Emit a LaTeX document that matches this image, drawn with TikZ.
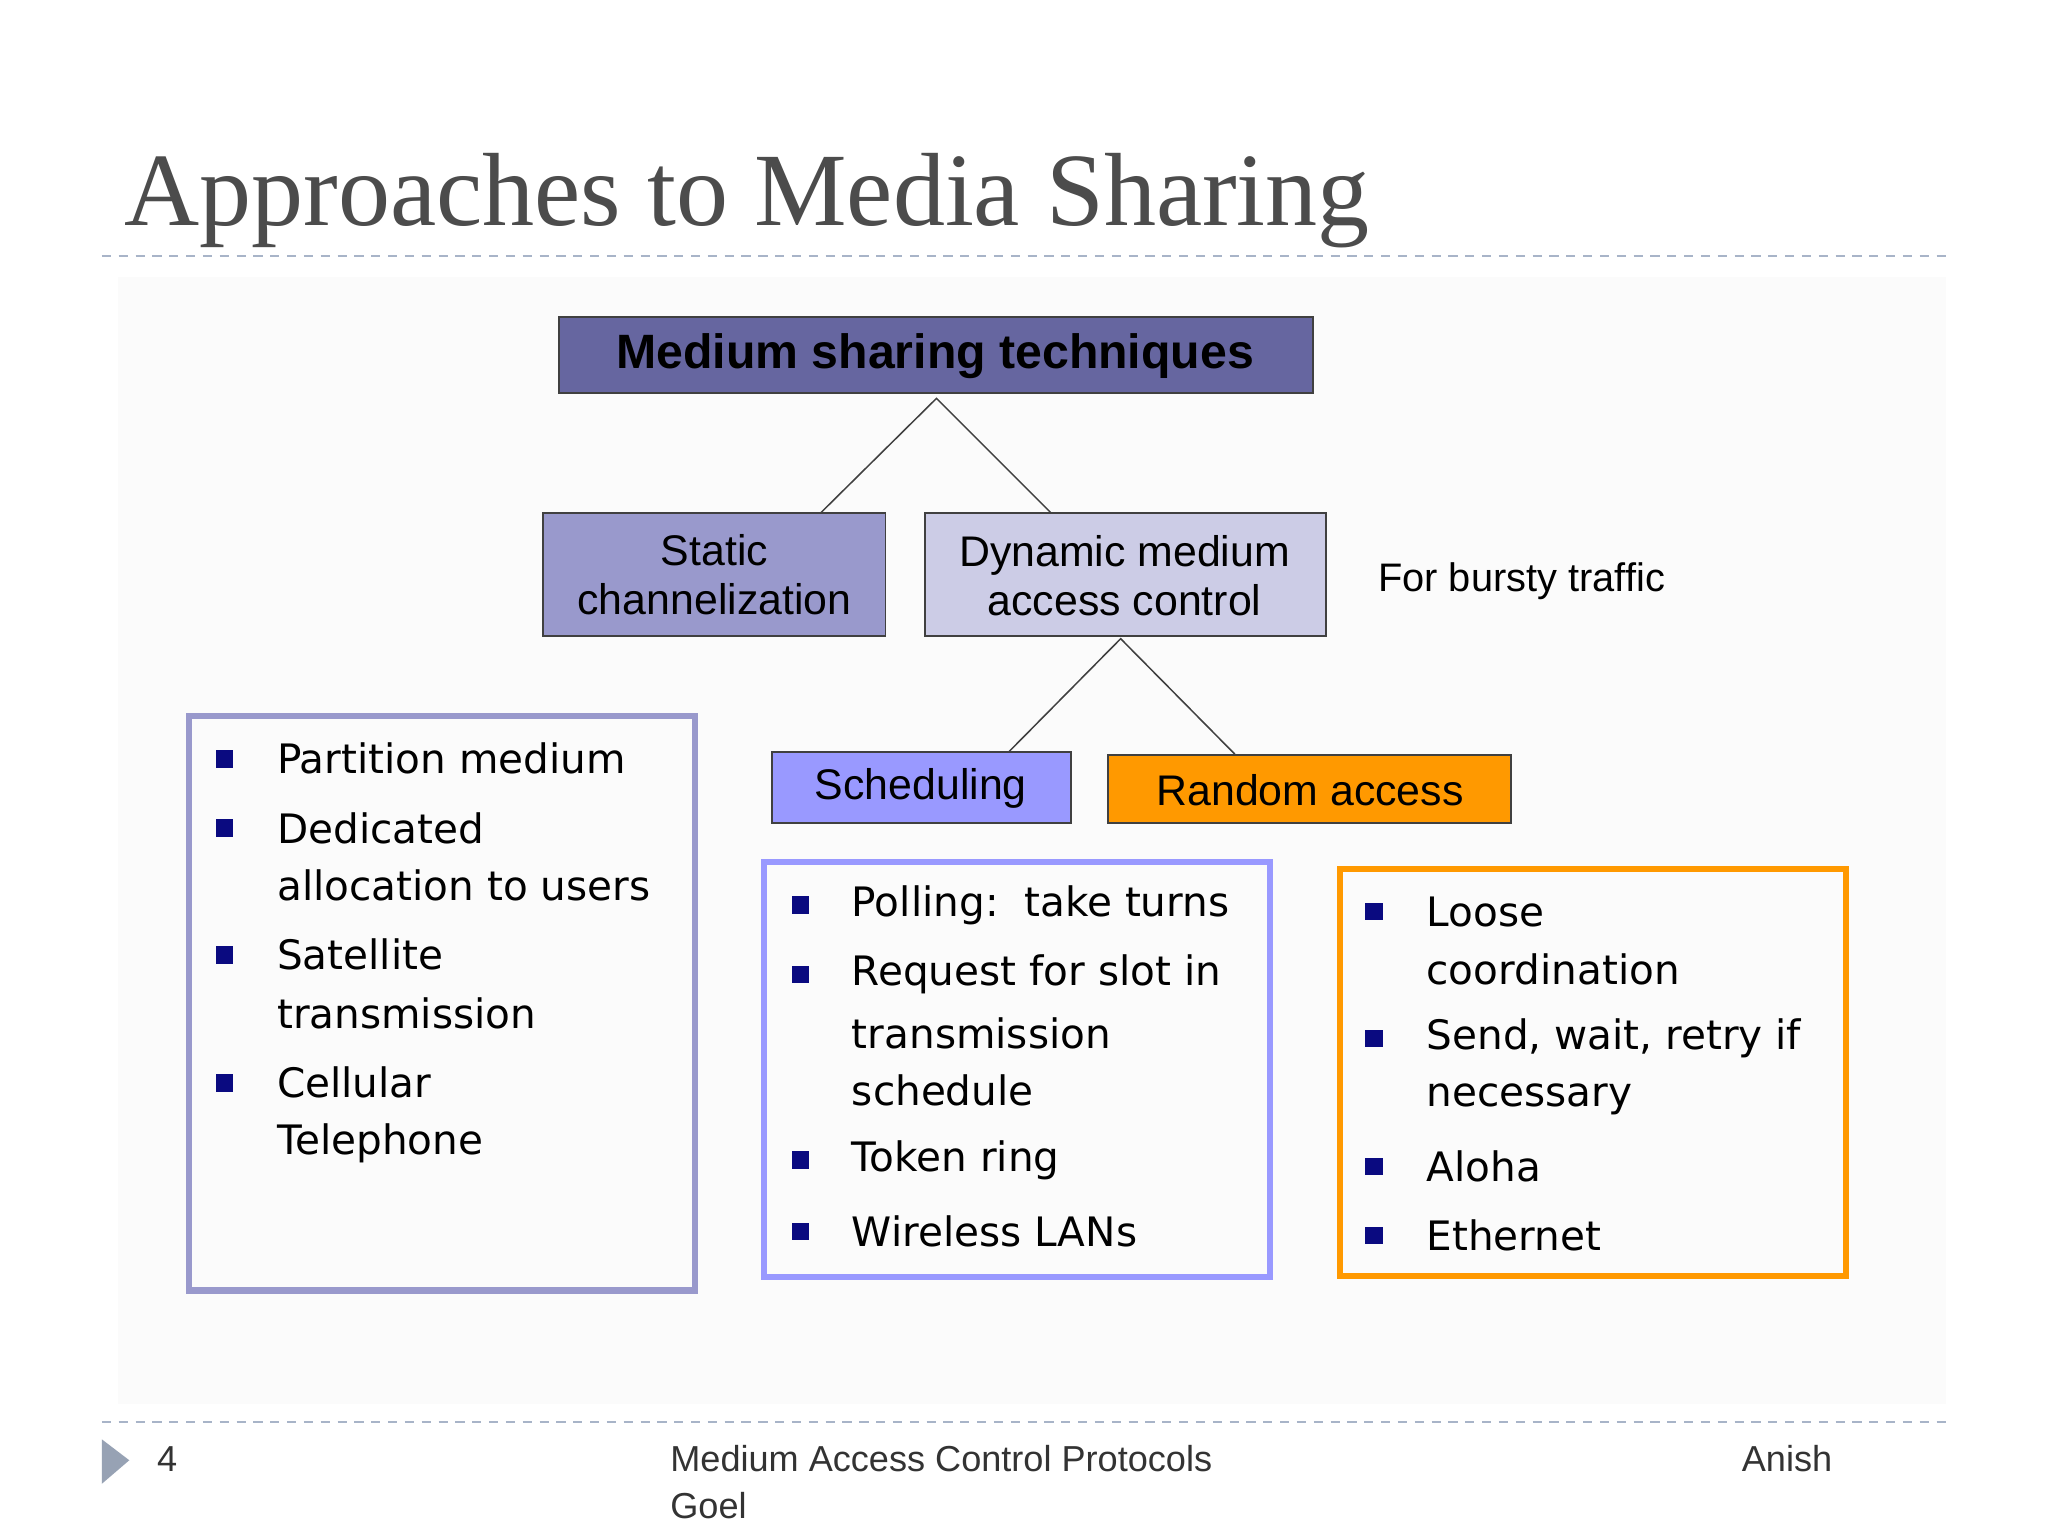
\documentclass[tikz,border=0pt]{standalone}
\usepackage{fontspec}
\setmainfont{Liberation Sans}
\newfontfamily\ttl{Liberation Serif}
\newfontfamily\lst{DejaVu Sans}
\definecolor{bul}{HTML}{0A0A80}
\definecolor{dashc}{HTML}{A8B4C8}
\definecolor{topc}{HTML}{6666A0}
\definecolor{statc}{HTML}{9999CC}
\definecolor{dync}{HTML}{CCCCE6}
\definecolor{schc}{HTML}{9999FF}
\definecolor{rndc}{HTML}{FF9900}
\begin{document}
\begin{tikzpicture}[x=0.3mm,y=-0.3mm,
  box/.style={draw=black!75,line width=1.2pt,inner sep=0pt},
  lab/.style={font=\fontsize{28}{32}\selectfont,align=center},
  lt/.style={anchor=west,inner sep=0pt,font=\lst\fontsize{26.5}{30}\selectfont},
  bl/.style={fill=bul,minimum size=4mm,inner sep=0pt},
  lbox/.style={line width=4pt},
  ft/.style={anchor=west,inner sep=0pt,font=\fontsize{23.6}{26}\selectfont,text=black!80}]
\useasboundingbox (0,0) rectangle (1568,1176);
\fill[white] (0,0) rectangle (1568,1176);
\fill[black!1.5] (90,212) rectangle (1490,1075);
\node[anchor=base west,inner sep=0pt,text=black!70,font=\ttl\fontsize{68}{74}\selectfont] (title) at (95,173) {Approaches to Media Sharing};
\draw[dashc,line width=1.2pt,dash pattern=on 6pt off 5pt] (78,196) -- (1490,196);
\draw[dashc,line width=1.2pt,dash pattern=on 6pt off 5pt] (78,1089) -- (1490,1089);
% tree
\draw[box,fill=topc] (428,243) rectangle (1005,301);
\node[font=\bfseries\fontsize{31.5}{34}\selectfont] (top) at (716,273) {Medium sharing techniques};
\draw[box,fill=statc] (416,393) rectangle (678,487);
\node[lab] (stat) at (547,440) {Static\\channelization};
\draw[box,fill=dync] (708,393) rectangle (1015,487);
\node[lab] (dyn) at (861,441) {Dynamic medium\\access control};
\node[font=\fontsize{26}{30}\selectfont,anchor=west,inner sep=0pt] (burst) at (1055,445) {For bursty traffic};
\draw[box,fill=schc] (591,576) rectangle (820,630);
\node[lab] (sch) at (705,604) {Scheduling};
\draw[box,fill=rndc] (848,578) rectangle (1157,630);
\node[lab] (rnd) at (1003,605) {Random access};
\coordinate (tb) at (717,305); \coordinate (st) at (628,393); \coordinate (dt) at (805,393);
\coordinate (db) at (858,489); \coordinate (sct) at (772,576); \coordinate (rt) at (946,578);
\draw[black!75,line width=1pt] (st) -- (tb) -- (dt);
\draw[black!75,line width=1pt] (sct) -- (db) -- (rt);
% list boxes
\draw[lbox,draw=statc] (145,548) rectangle (532,988);
\draw[lbox,draw=schc] (585,660) rectangle (972,978);
\draw[lbox,draw=rndc] (1026,665) rectangle (1413,977);
\foreach \y in {581,634,731,829} \node[bl] at (172,\y) {};
\node[lt] (a1) at (212,581) {Partition medium};
\node[lt] (a2) at (212,634) {Dedicated};
\node[lt] (a3) at (212,678) {allocation to users};
\node[lt] (a4) at (212,731) {Satellite};
\node[lt] (a5) at (212,776) {transmission};
\node[lt] (a6) at (212,829) {Cellular};
\node[lt] (a7) at (212,875) {Telephone};
\foreach \y in {693,746,888,943} \node[bl] at (613,\y) {};
\node[lt] (b1) at (652,693) {Polling:\ \ take turns};
\node[lt] (b2) at (652,746) {Request for slot in};
\node[lt] (b3) at (652,791) {transmission};
\node[lt] (b4) at (652,835) {schedule};
\node[lt] (b5) at (652,888) {Token ring};
\node[lt] (b6) at (652,943) {Wireless LANs};
\foreach \y in {698,795,893,946} \node[bl] at (1052,\y) {};
\node[lt] (c1) at (1092,698) {Loose};
\node[lt] (c2) at (1092,742) {coordination};
\node[lt] (c3) at (1092,795) {Send, wait, retry if};
\node[lt] (c4) at (1092,842) {necessary};
\node[lt] (c5) at (1092,893) {Aloha};
\node[lt] (c6) at (1092,946) {Ethernet};
% footer
\fill[dashc!90!black] (78,1102) -- (99,1118) -- (78,1136) -- cycle;
\node[ft] (pg) at (120,1117) {4};
\node[ft] (f1) at (513,1117) {Medium Access Control Protocols};
\node[ft] (f2) at (513,1153) {Goel};
\node[ft,anchor=east] (f3) at (1403,1117) {Anish};
\end{tikzpicture}
\end{document}
